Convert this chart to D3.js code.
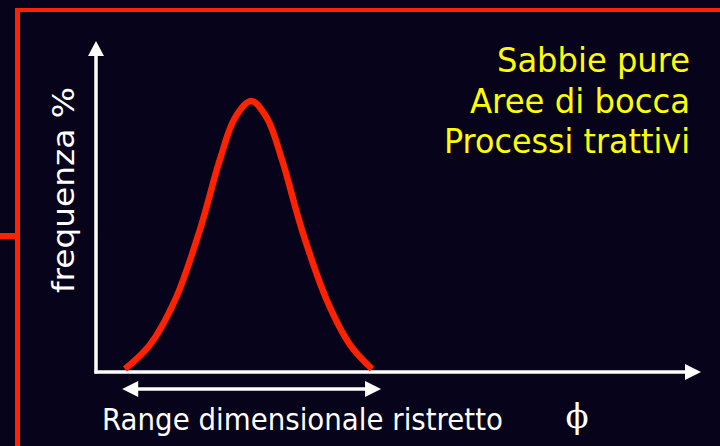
<!DOCTYPE html>
<html><head><meta charset="utf-8">
<script src="https://cdn.jsdelivr.net/npm/d3@7"></script>
<style>html,body{margin:0;padding:0;background:#06031a;overflow:hidden}</style>
</head><body>
<script>
// data
const phi  = [4.8, 8.9, 13.1, 17.2, 20.5, 23.0, 25.7, 28.3, 30.8, 34.1, 38.2, 42.1, 45.7];
const freq = [0.9, 8.1, 21.7, 42.8, 63.9, 76.5, 81.6, 76.5, 63.9, 42.8, 21.7, 8.1, 0.9];
const rangeExtent = [4.5, 47.2];
const titleLines = ["Sabbie pure", "Aree di bocca", "Processi trattivi"];
const yLabel = "frequenza %";
const xLabel = "Range dimensionale ristretto";
const xUnit = "\u03d5";

const W = 720, H = 446;
const svg = d3.select("body").append("svg").attr("width", W).attr("height", H);
svg.append("rect").attr("width", W).attr("height", H).attr("fill", "#06031a");

// red frame
const red = "#ff2200";
svg.append("rect").attr("x", 15).attr("y", 8).attr("width", W - 15).attr("height", 4).attr("fill", red);
svg.append("rect").attr("x", 15).attr("y", 8).attr("width", 5).attr("height", H - 8).attr("fill", red);
svg.append("rect").attr("x", 0).attr("y", 233).attr("width", 15).attr("height", 6).attr("fill", red);

const x = d3.scaleLinear().domain([0, 100]).range([96, 700]);
const y = d3.scaleLinear().domain([0, 100]).range([372, 40]);

const white = "#ffffff";
// axes
svg.append("line").attr("x1", x(0)).attr("x2", x(0)).attr("y1", y(0) + 1.5).attr("y2", 54)
  .attr("stroke", white).attr("stroke-width", 3.5);
svg.append("path").attr("d", `M${x(0)},41 L${x(0) - 8},56 L${x(0) + 8},56 Z`).attr("fill", white);
svg.append("line").attr("x1", x(0) - 1.5).attr("x2", 687).attr("y1", y(0)).attr("y2", y(0))
  .attr("stroke", white).attr("stroke-width", 3.5);
svg.append("path").attr("d", `M701,${y(0)} L685,${y(0) - 8} L685,${y(0) + 8} Z`).attr("fill", white);

// curve
svg.append("path")
  .datum(phi.map((p, i) => [p, freq[i]]))
  .attr("d", d3.line().x(d => x(d[0])).y(d => y(d[1])).curve(d3.curveCatmullRom.alpha(0.5)))
  .attr("fill", "none").attr("stroke", red).attr("stroke-width", 6.5).attr("stroke-linejoin", "round");

// double arrow
const ay = 389, ax1 = x(rangeExtent[0]) - 1, ax2 = x(rangeExtent[1]);
svg.append("line").attr("x1", ax1 + 12).attr("x2", ax2 - 12).attr("y1", ay).attr("y2", ay)
  .attr("stroke", white).attr("stroke-width", 3.5);
svg.append("path").attr("d", `M${ax1},${ay} L${ax1 + 16},${ay - 8} L${ax1 + 16},${ay + 8} Z`).attr("fill", white);
svg.append("path").attr("d", `M${ax2},${ay} L${ax2 - 16},${ay - 8} L${ax2 - 16},${ay + 8} Z`).attr("fill", white);

const font = "Tahoma, 'DejaVu Sans', sans-serif";
// title lines (yellow)
const tw = [193, 220, 246];
titleLines.forEach((t, i) => {
  svg.append("text").attr("x", 690).attr("y", 72 + i * 40.5).attr("text-anchor", "end")
    .attr("font-family", font).attr("font-size", 34).attr("fill", "#ffff00")
    .attr("textLength", tw[i]).attr("lengthAdjust", "spacingAndGlyphs").text(t);
});

// y label
svg.append("text").attr("transform", "translate(74,293) rotate(-90)")
  .attr("font-family", font).attr("font-size", 31).attr("fill", white)
  .attr("textLength", 206).attr("lengthAdjust", "spacingAndGlyphs").text(yLabel);

// x label
svg.append("text").attr("x", 102).attr("y", 430)
  .attr("font-family", font).attr("font-size", 30).attr("fill", white)
  .attr("textLength", 401).attr("lengthAdjust", "spacingAndGlyphs").text(xLabel);

svg.append("text").attr("x", 577).attr("y", 428).attr("text-anchor", "middle")
  .attr("font-family", "'DejaVu Serif', 'Liberation Serif', serif").attr("font-size", 34).attr("fill", white).text(xUnit);
</script>
</body></html>
